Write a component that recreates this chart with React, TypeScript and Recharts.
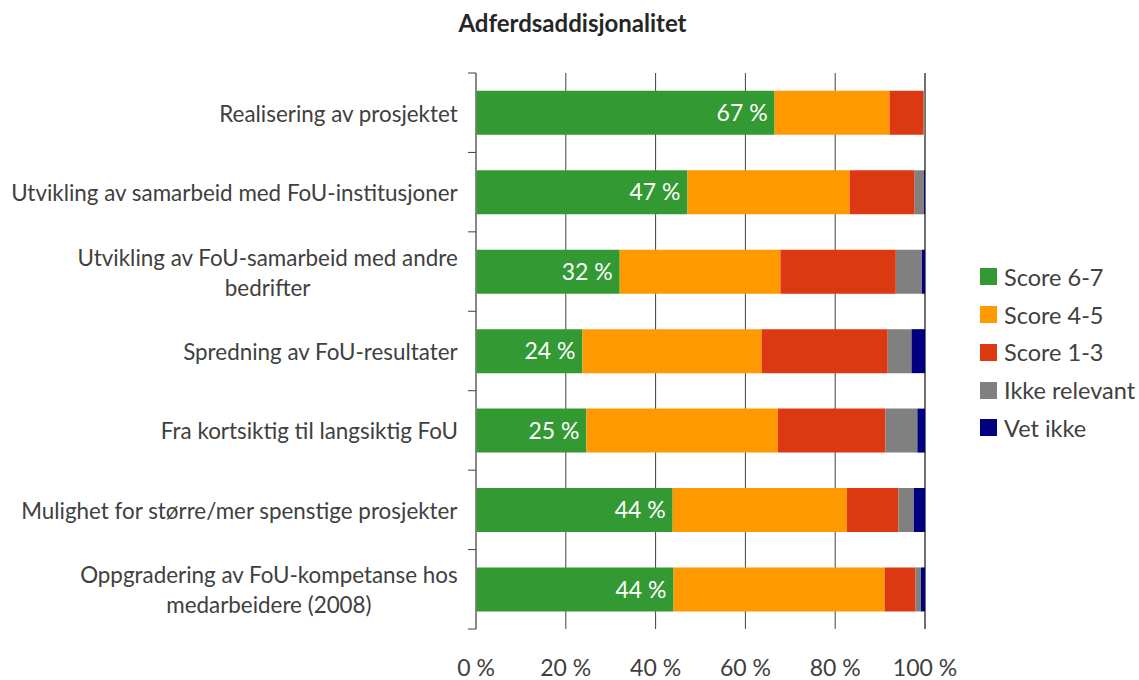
import React from 'react';
import { BarChart, Bar, XAxis, YAxis, CartesianGrid, LabelList } from 'recharts';

// ---- Data ----
const categories = [
  'Realisering av prosjektet',
  'Utvikling av samarbeid med FoU-institusjoner',
  'Utvikling av FoU-samarbeid med andre\nbedrifter',
  'Spredning av FoU-resultater',
  'Fra kortsiktig til langsiktig FoU',
  'Mulighet for større/mer spenstige prosjekter',
  'Oppgradering av FoU-kompetanse hos\nmedarbeidere (2008)',
];
const score67 = [66.5, 47.1, 32.0, 23.7, 24.6, 43.8, 44.0];
const score45 = [25.6, 36.1, 35.8, 39.9, 42.6, 38.8, 47.0];
const score13 = [7.6, 14.5, 25.7, 28.1, 24.0, 11.5, 6.9];
const ikkeRelevant = [0.3, 2.1, 5.8, 5.3, 7.1, 3.4, 1.2];
const vetIkke = [0.0, 0.2, 0.7, 3.0, 1.7, 2.5, 0.9];
const xTicks = [0, 20, 40, 60, 80, 100];

const seriesNames = ['Score 6-7', 'Score 4-5', 'Score 1-3', 'Ikke relevant', 'Vet ikke'];
const seriesKeys = ['s67', 's45', 's13', 'ikke', 'vet'];
const seriesColors = ['#339933', '#FF9900', '#DC3912', '#808080', '#000080'];

const data = categories.map((c, i) => ({
  name: c,
  s67: score67[i],
  s45: score45[i],
  s13: score13[i],
  ikke: ikkeRelevant[i],
  vet: vetIkke[i],
}));

// ---- Layout / style ----
const W = 1139;
const H = 680;
const FONT = 'Lato, "Open Sans", sans-serif';
const FS = 22.4;
const TEXT = '#404040';
const MARGIN = { top: 73, right: 214, bottom: 0, left: 0 };
const YAXIS_W = 476;
const XAXIS_H = 51;
const PLOT_H = H - MARGIN.top - MARGIN.bottom - XAXIS_H;
const TICK_MARGIN = 18;
const LINE_H = 30;

let ctx: CanvasRenderingContext2D | null = null;
function textWidth(s: string) {
  if (!ctx && typeof document !== 'undefined') {
    ctx = document.createElement('canvas').getContext('2d');
  }
  if (!ctx) return s.length * FS * 0.5;
  ctx.font = `${FS}px Lato`;
  return ctx.measureText(s).width;
}

const CategoryTick = (props: any) => {
  const { x, y, payload } = props;
  const idx = categories.indexOf(payload.value);
  const lines = String(payload.value).split('\n');
  const axisX = x + TICK_MARGIN;
  const band = PLOT_H / categories.length;
  const w1 = textWidth(lines[0]);
  const cx = x - w1 / 2;
  const y0 = y - ((lines.length - 1) * LINE_H) / 2;
  return (
    <g>
      <text
        x={cx}
        y={y0}
        textAnchor="middle"
        dominantBaseline="central"
        fill={TEXT}
        fontSize={FS}
        fontFamily={FONT}
      >
        {lines.map((l, i) => (
          <tspan key={i} x={cx} y={y0 + i * LINE_H}>
            {l}
          </tspan>
        ))}
      </text>
      <line x1={axisX - 8} x2={axisX} y1={y - band / 2} y2={y - band / 2} stroke="#404040" strokeWidth={1} />
      {idx === categories.length - 1 && (
        <line x1={axisX - 8} x2={axisX} y1={y + band / 2} y2={y + band / 2} stroke="#404040" strokeWidth={1} />
      )}
    </g>
  );
};

export default function App() {
  return (
    <div style={{ position: 'absolute', left: 0, top: 0, width: W, height: H, background: '#fff', fontFamily: FONT }}>
      <div
        style={{
          position: 'absolute',
          left: 0,
          width: 1145,
          top: 8,
          textAlign: 'center',
          fontWeight: 700,
          fontSize: 24,
          color: '#262626',
          lineHeight: '30px',
        }}
      >
        Adferdsaddisjonalitet
      </div>
      <BarChart width={W} height={H} data={data} layout="vertical" margin={MARGIN} barCategoryGap="22.5%">
        <CartesianGrid horizontal={false} vertical={true} stroke="#404040" strokeWidth={1} />
        <XAxis
          type="number"
          domain={[0, 100]}
          ticks={xTicks}
          tickFormatter={(v: number) => `${v} %`}
          axisLine={false}
          tickLine={false}
          tickSize={0}
          tickMargin={31}
          height={XAXIS_H}
          tick={{ fill: TEXT, fontSize: 23, fontFamily: FONT }}
          interval={0}
        />
        <YAxis
          type="category"
          dataKey="name"
          width={YAXIS_W}
          tickLine={false}
          tickSize={0}
          tickMargin={TICK_MARGIN}
          axisLine={{ stroke: '#7f7f7f', strokeWidth: 1.5 }}
          tick={<CategoryTick />}
          interval={0}
        />
        {seriesKeys.map((k, i) => (
          <Bar key={k} dataKey={k} name={seriesNames[i]} stackId="a" fill={seriesColors[i]} isAnimationActive={false}>
            {i === 0 && (
              <LabelList
                dataKey={k}
                position="insideRight"
                offset={7}
                fill="#ffffff"
                fontSize={23}
                fontFamily={FONT}
                formatter={(v: any) => `${Math.round(Number(v))} %`}
              />
            )}
          </Bar>
        ))}
      </BarChart>
      <div style={{ position: 'absolute', left: 980, top: 258 }}>
        {seriesNames.map((n, i) => (
          <div key={n} style={{ display: 'flex', alignItems: 'center', height: 37.75 }}>
            <div style={{ width: 17, height: 17, background: seriesColors[i], marginRight: 7 }} />
            <span style={{ fontSize: 23.5, color: TEXT, whiteSpace: 'nowrap' }}>{n}</span>
          </div>
        ))}
      </div>
    </div>
  );
}
